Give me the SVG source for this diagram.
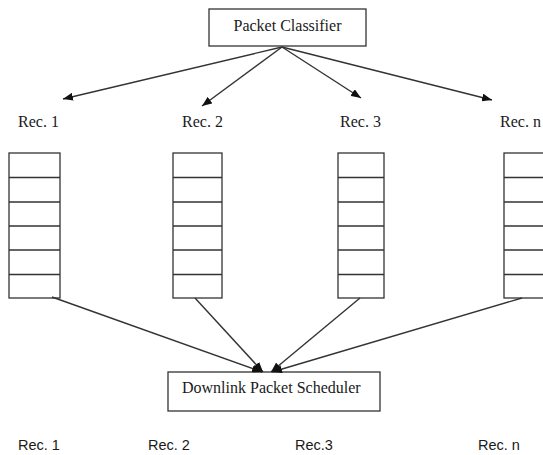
<svg xmlns="http://www.w3.org/2000/svg" width="543" height="455" viewBox="0 0 543 455">
  <style>
    .box { fill: #fff; stroke: #333; stroke-width: 1.3; }
    .cell { fill: #fff; stroke: #333; stroke-width: 1.3; }
    .edge { fill: none; stroke: #333; stroke-width: 1.4; marker-end: url(#arrow); }
    .serif { font-family: "Liberation Serif", "Times New Roman", serif; font-size: 16px; fill: #1a1a1a; }
    .sans { font-family: "Liberation Sans", Arial, sans-serif; font-size: 14.5px; fill: #1a1a1a; }
  </style>
  <defs>
    <marker id="arrow" viewBox="0 0 10 8" refX="10" refY="4" markerWidth="10" markerHeight="8" markerUnits="userSpaceOnUse" orient="auto">
      <path d="M0,0 L10,4 L0,8 Z" fill="#111"/>
    </marker>
  </defs>

  <rect width="543" height="455" fill="#fff"/>

  <!-- classifier -->
  <g id="classifier">
    <rect class="box" x="209" y="9" width="157" height="37"/>
    <text class="serif" x="287.5" y="31" text-anchor="middle">Packet Classifier</text>
  </g>

  <!-- receiver labels -->
  <g id="label-rec1"><text class="serif" x="18" y="127">Rec. 1</text></g>
  <g id="label-rec2"><text class="serif" x="182" y="127">Rec. 2</text></g>
  <g id="label-rec3"><text class="serif" x="340" y="127">Rec. 3</text></g>
  <g id="label-recn"><text class="serif" x="500" y="127">Rec. n</text></g>

  <!-- queues: six stacked cells each -->
  <g id="queue-rec1">
    <rect class="cell" x="9" y="153" width="51" height="145"/>
    <path class="cell" d="M9,177.5H60M9,202H60M9,226H60M9,250H60M9,274.5H60"/>
  </g>
  <g id="queue-rec2">
    <rect class="cell" x="173" y="153" width="49" height="145"/>
    <path class="cell" d="M173,177.5H222M173,202H222M173,226H222M173,250H222M173,274.5H222"/>
  </g>
  <g id="queue-rec3">
    <rect class="cell" x="338" y="153" width="46" height="145"/>
    <path class="cell" d="M338,177.5H384M338,202H384M338,226H384M338,250H384M338,274.5H384"/>
  </g>
  <g id="queue-recn">
    <rect class="cell" x="504" y="153" width="48" height="145"/>
    <path class="cell" d="M504,177.5H552M504,202H552M504,226H552M504,250H552M504,274.5H552"/>
  </g>

  <!-- scheduler -->
  <g id="scheduler">
    <rect class="box" x="168" y="372" width="212" height="39"/>
    <text class="serif" x="182" y="393">Downlink Packet Scheduler</text>
  </g>

  <!-- bottom labels -->
  <g id="label-bottom-rec1"><text class="sans" x="18" y="450">Rec. 1</text></g>
  <g id="label-bottom-rec2"><text class="sans" x="148" y="450">Rec. 2</text></g>
  <g id="label-bottom-rec3"><text class="sans" x="295" y="450">Rec.3</text></g>
  <g id="label-bottom-recn"><text class="sans" x="478" y="450">Rec. n</text></g>

  <!-- connectors -->
  <g id="connectors">
    <line class="edge" x1="282" y1="47" x2="63" y2="99"/>
    <line class="edge" x1="282" y1="47" x2="202" y2="106"/>
    <line class="edge" x1="282" y1="47" x2="361" y2="98"/>
    <line class="edge" x1="282" y1="47" x2="492" y2="100"/>
    <line class="edge" x1="52" y1="297" x2="262" y2="372"/>
    <line class="edge" x1="195" y1="298" x2="263" y2="372"/>
    <line class="edge" x1="360" y1="298" x2="271" y2="372"/>
    <line class="edge" x1="522" y1="298" x2="272" y2="372"/>
  </g>
</svg>
